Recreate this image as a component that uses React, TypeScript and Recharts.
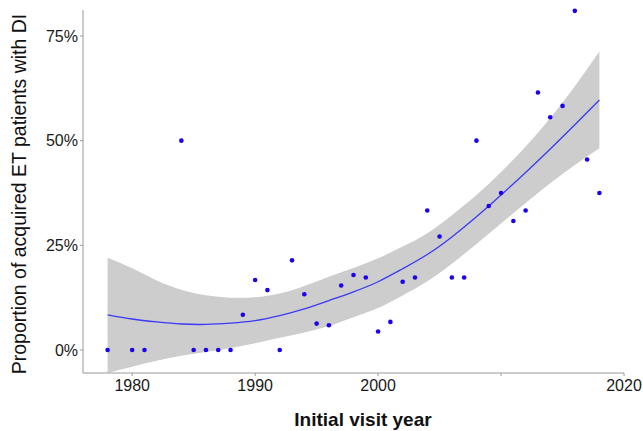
import { ComposedChart, Area, Line, Scatter, XAxis, YAxis, Label } from 'recharts';

// observed proportion (%) per initial visit year
const years = [
    1978, 1980, 1981, 1984, 1985, 1986, 1987, 1988, 1989, 1990, 1991, 1992, 1993,
    1994, 1995, 1996, 1997, 1998, 1999, 2000, 2001, 2002, 2003, 2004, 2005, 2006,
    2007, 2008, 2009, 2010, 2011, 2012, 2013, 2014, 2015, 2016, 2017, 2018,
];
const proportions = [
    0, 0, 0, 50, 0, 0, 0, 0, 8.4, 16.7, 14.3, 0, 21.4,
    13.3, 6.3, 5.9, 15.4, 17.9, 17.3, 4.4, 6.7, 16.3, 17.3, 33.3, 27.1, 17.3,
    17.3, 50, 34.4, 37.5, 30.8, 33.3, 61.5, 55.6, 58.3, 81.0, 45.5, 37.5,
];

const fitYears = [
    1978, 1980, 1982, 1984, 1986, 1988, 1990, 1992, 1994, 1996, 1998,
    2000, 2002, 2004, 2006, 2008, 2010, 2012, 2014, 2016, 2018,
];
const fitValues = [
    8.4, 7.4, 6.7, 6.2, 6.1, 6.4, 7.0, 8.2, 9.8, 11.8, 13.9,
    16.3, 19.4, 22.8, 27.0, 31.8, 37.0, 42.4, 48.0, 53.8, 59.7,
];
const bandLow = [
    -5.5, -4.0, -2.6, -1.4, -0.5, 0.5, 1.6, 2.9, 4.2, 5.7, 7.8,
    10.0, 13.0, 16.4, 20.6, 25.3, 30.2, 35.1, 39.8, 44.2, 48.2,
];
const bandHigh = [
    22.0, 19.5, 16.6, 14.4, 13.1, 12.5, 12.6, 13.5, 15.3, 17.5, 19.6,
    21.9, 24.7, 27.9, 32.2, 37.0, 42.5, 48.6, 55.4, 63.0, 71.3,
];

const xTicks = [1980, 1990, 2000, 2010, 2020];
const yTicks = [0, 25, 50, 75];

const points = years.map((year, i) => ({ year, value: proportions[i] }));
const fit = fitYears.map((year, i) => ({
    year,
    fit: fitValues[i],
    band: [bandLow[i], bandHigh[i]],
}));

const font = '"Liberation Sans", Arial, sans-serif';
const axisGrey = '#9a9a9a';

export default function App() {
    return (
        <div style={{ position: 'absolute', left: 0, top: 0, fontFamily: font }}>
            <ComposedChart width={643} height={431} margin={{ top: 10, right: 19, bottom: 0, left: 0 }}>
                <XAxis
                    type="number"
                    dataKey="year"
                    domain={[1976, 2020]}
                    ticks={xTicks}
                    tickFormatter={(v) => (v === 2010 ? '' : String(v))}
                    height={58}
                    tickSize={3}
                    tickMargin={4}
                    stroke={axisGrey}
                    tick={{ fill: '#1a1a1a', fontSize: 16, fontFamily: font }}
                >
                    <Label
                        content={() => (
                            <text x={363} y={426} textAnchor="middle" fontSize={19} fontWeight="bold" fill="#111" fontFamily={font}>
                                Initial visit year
                            </text>
                        )}
                    />
                </XAxis>
                <YAxis
                    type="number"
                    domain={[-5.5, 81.2]}
                    ticks={yTicks}
                    tickFormatter={(v) => `${v}%`}
                    width={83}
                    tickSize={3}
                    tickMargin={2}
                    stroke={axisGrey}
                    tick={{ fill: '#1a1a1a', fontSize: 16, fontFamily: font }}
                >
                    <Label
                        content={() => (
                            <text x={19} y={194} transform="rotate(-90 19 194)" textAnchor="middle" dominantBaseline="central" fontSize={19.5} fill="#111" fontFamily={font}>
                                Proportion of acquired ET patients with DI
                            </text>
                        )}
                    />
                </YAxis>
                <Area
                    data={fit}
                    dataKey="band"
                    type="natural"
                    stroke="none"
                    fill="#cdcdcd"
                    fillOpacity={1}
                    isAnimationActive={false}
                />
                <Line
                    data={fit}
                    dataKey="fit"
                    type="natural"
                    stroke="#3a3af5"
                    strokeWidth={1.3}
                    dot={false}
                    isAnimationActive={false}
                />
                <Scatter
                    data={points}
                    dataKey="value"
                    fill="#1a00ee"
                    isAnimationActive={false}
                    shape={(p: any) => <circle cx={p.cx} cy={p.cy} r={2.3} fill="#1a00ee" />}
                />
            </ComposedChart>
        </div>
    );
}
